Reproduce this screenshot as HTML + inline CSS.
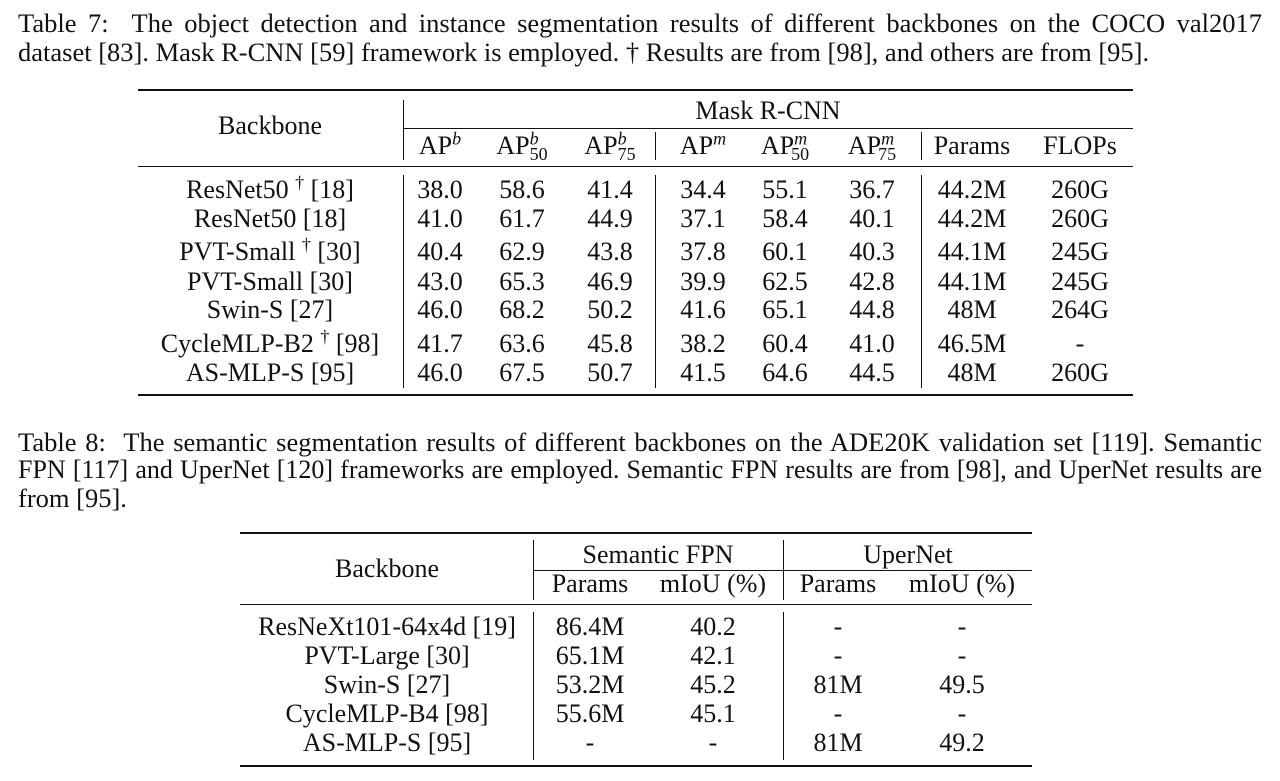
<!DOCTYPE html>
<html><head><meta charset="utf-8">
<style>
body{margin:0;width:1280px;height:781px;background:#fff;position:relative;overflow:hidden;font-family:"Liberation Serif",serif;color:#111;font-size:26px}
.cap{position:absolute;left:18px;width:1244px;white-space:nowrap;font-size:26.5px}
.j{text-align:justify;text-align-last:justify;white-space:normal}
.t{position:absolute;transform:translate(-50%,-50%);white-space:nowrap;line-height:1}
.r{position:absolute;background:#111}
sup,sub{font-size:18px;line-height:0}
sup i,sub i{font-style:italic}
</style></head><body>
<div class="cap j" style="top:8px">Table 7: &nbsp;The object detection and instance segmentation results of different backbones on the COCO val2017</div>
<div class="cap" style="top:37px">dataset [83]. Mask R-CNN [59] framework is employed. † Results are from [98], and others are from [95].</div>

<div id="t7"></div>

<div class="cap j" style="top:427px">Table 8: &nbsp;The semantic segmentation results of different backbones on the ADE20K validation set [119]. Semantic</div>
<div class="cap j" style="top:455px;font-size:26px;white-space:nowrap">FPN [117] and UperNet [120] frameworks are employed. Semantic FPN results are from [98], and UperNet results are</div>
<div class="cap" style="top:483px">from [95].</div>

<div id="t8"></div>

<script>
function rule(x,y,w,h,name){var d=document.createElement('div');d.className='r';d.style.left=x+'px';d.style.top=y+'px';d.style.width=w+'px';d.style.height=h+'px';


document.body.appendChild(d);}
function txt(x,y,html,name){var d=document.createElement('div');d.className='t';d.style.left=x+'px';d.style.top=y+'px';d.innerHTML=html;


document.body.appendChild(d);}

// Table 7
rule(138,89,995,2,'t7-top-rule');
rule(403,128,730,1,'t7-group-rule');
rule(138,166,995,1,'t7-header-rule');
rule(138,394,995,2,'t7-bottom-rule');
rule(403,100,1,60,'t7-vline1a');rule(403,175,1,213,'t7-vline1b');
rule(655,132,1,28,'t7-vline2a');rule(655,175,1,213,'t7-vline2b');
rule(921,132,1,28,'t7-vline3a');rule(921,175,1,213,'t7-vline3b');
txt(270,126,'Backbone','t7-backbone-header');
txt(768,111,'Mask R-CNN','t7-mask-rcnn-header');
var h7=['AP<sup><i>b</i></sup>','AP<sup><i>b</i></sup><sub style="margin-left:-9px">50</sub>','AP<sup><i>b</i></sup><sub style="margin-left:-9px">75</sub>','AP<sup><i>m</i></sup>','AP<sup><i>m</i></sup><sub style="margin-left:-16px">50</sub>','AP<sup><i>m</i></sup><sub style="margin-left:-16px">75</sub>','Params','FLOPs'];
var c7=[440,522,610,703,785,872,972,1080];
h7.forEach(function(h,i){txt(c7[i],146,h,'t7-col-header');});
var rows7=[
['ResNet50 <sup>†</sup> [18]','38.0','58.6','41.4','34.4','55.1','36.7','44.2M','260G'],
['ResNet50 [18]','41.0','61.7','44.9','37.1','58.4','40.1','44.2M','260G'],
['PVT-Small <sup>†</sup> [30]','40.4','62.9','43.8','37.8','60.1','40.3','44.1M','245G'],
['PVT-Small [30]','43.0','65.3','46.9','39.9','62.5','42.8','44.1M','245G'],
['Swin-S [27]','46.0','68.2','50.2','41.6','65.1','44.8','48M','264G'],
['CycleMLP-B2 <sup>†</sup> [98]','41.7','63.6','45.8','38.2','60.4','41.0','46.5M','-'],
['AS-MLP-S [95]','46.0','67.5','50.7','41.5','64.6','44.5','48M','260G']];
var y7=[190,219,252,282,310,344,373];
rows7.forEach(function(r,j){txt(270,y7[j],r[0],'t7-row-label');for(var i=1;i<r.length;i++)txt(c7[i-1],y7[j],r[i],'t7-cell');});

// Table 8
rule(240,532,792,2,'t8-top-rule');
rule(533,570,499,1,'t8-group-rule');
rule(240,604,792,1,'t8-header-rule');
rule(240,765,792,2,'t8-bottom-rule');
rule(533,540,1,60,'t8-vline1a');rule(533,612,1,148,'t8-vline1b');
rule(783,540,1,60,'t8-vline2a');rule(783,612,1,148,'t8-vline2b');
txt(387,569,'Backbone','t8-backbone-header');
txt(658,555,'Semantic FPN','t8-fpn-header');
txt(908,555,'UperNet','t8-upernet-header');
var c8=[590,713,838,962];
['Params','mIoU (%)','Params','mIoU (%)'].forEach(function(h,i){txt(c8[i],584,h,'t8-col-header');});
var rows8=[
['ResNeXt101-64x4d [19]','86.4M','40.2','-','-'],
['PVT-Large [30]','65.1M','42.1','-','-'],
['Swin-S [27]','53.2M','45.2','81M','49.5'],
['CycleMLP-B4 [98]','55.6M','45.1','-','-'],
['AS-MLP-S [95]','-','-','81M','49.2']];
var y8=[627,656,685,714,743];
rows8.forEach(function(r,j){txt(387,y8[j],r[0],'t8-row-label');for(var i=1;i<r.length;i++)txt(c8[i-1],y8[j],r[i],'t8-cell');});
</script>
</body></html>
